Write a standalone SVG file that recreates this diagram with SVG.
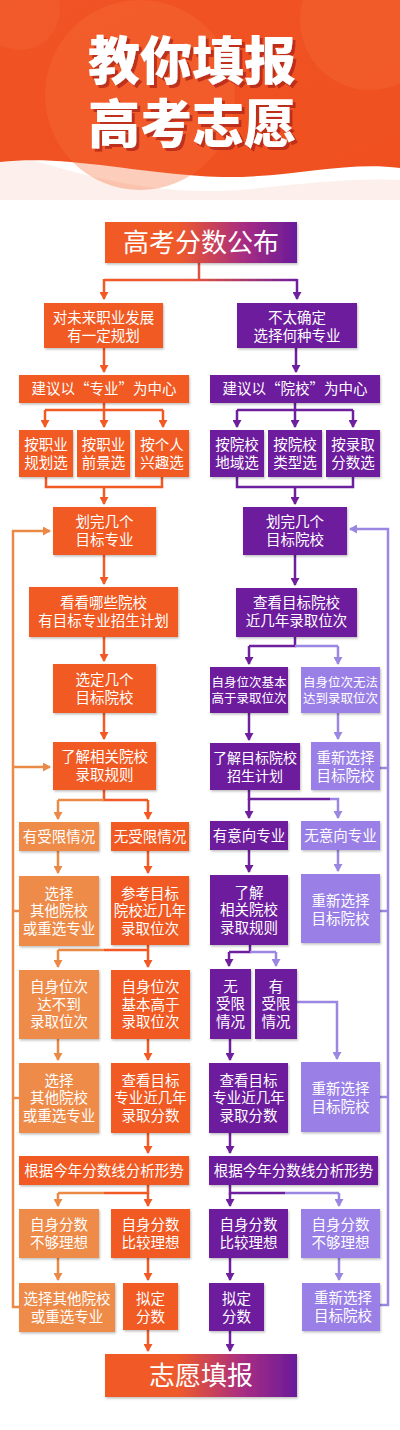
<svg xmlns="http://www.w3.org/2000/svg" width="400" height="1430" viewBox="0 0 400 1430">
<defs>
<style>
.o{fill:#f15a24}.lo{fill:#ee8b48}.p{fill:#6d1f9d}.lp{fill:#9a80e6}
.t{font-family:"Noto Sans CJK SC","Noto Sans",sans-serif;font-size:14.5px;fill:#fff;text-anchor:middle}
.s{font-size:12.5px}.m{font-size:14px}
.big{font-size:26px}
.title{font-family:"Noto Sans CJK SC",sans-serif;font-size:52px;font-weight:900;text-anchor:middle;fill:#fff;filter:url(#tsh)}
.co{fill:none;stroke:#f15a24;stroke-width:2.5}
.clo{fill:none;stroke:#eb8a46;stroke-width:2.5}
.cp{fill:none;stroke:#6d1f9d;stroke-width:2.5}
.clp{fill:none;stroke:#9b86e2;stroke-width:2.5}
.ao{marker-end:url(#mo)}.alo{marker-end:url(#mlo)}.ap{marker-end:url(#mp)}.alp{marker-end:url(#mlp)}
g.n rect{filter:url(#sh)}
</style>
<filter id="sh" x="-10%" y="-10%" width="130%" height="130%"><feDropShadow dx="1" dy="1.5" stdDeviation="1" flood-color="#000" flood-opacity="0.25"/></filter>
<filter id="tsh" x="-10%" y="-10%" width="130%" height="130%"><feDropShadow dx="3" dy="3" stdDeviation="0.3" flood-color="#b02812" flood-opacity="0.8"/></filter>
<linearGradient id="gb" x1="0" y1="0" x2="1" y2="0"><stop offset="0" stop-color="#f15a24"/><stop offset="0.38" stop-color="#ef5a2a"/><stop offset="0.72" stop-color="#a82d82"/><stop offset="1" stop-color="#6a1b9a"/></linearGradient>
<linearGradient id="gl" gradientUnits="userSpaceOnUse" x1="104" y1="0" x2="297" y2="0"><stop offset="0" stop-color="#f15a24"/><stop offset="0.45" stop-color="#e8553a"/><stop offset="1" stop-color="#6d1f9d"/></linearGradient>
<linearGradient id="gh" x1="0" y1="0" x2="1" y2="1"><stop offset="0" stop-color="#f05325"/><stop offset="1" stop-color="#f0501f"/></linearGradient>
<marker id="mo" markerUnits="userSpaceOnUse" markerWidth="9" markerHeight="9" refX="7" refY="4.5" orient="auto"><path d="M0,0 L8,4.5 L0,9 z" fill="#f15a24"/></marker>
<marker id="mlo" markerUnits="userSpaceOnUse" markerWidth="9" markerHeight="9" refX="7" refY="4.5" orient="auto"><path d="M0,0 L8,4.5 L0,9 z" fill="#eb8a46"/></marker>
<marker id="mp" markerUnits="userSpaceOnUse" markerWidth="9" markerHeight="9" refX="7" refY="4.5" orient="auto"><path d="M0,0 L8,4.5 L0,9 z" fill="#6d1f9d"/></marker>
<marker id="mlp" markerUnits="userSpaceOnUse" markerWidth="9" markerHeight="9" refX="7" refY="4.5" orient="auto"><path d="M0,0 L8,4.5 L0,9 z" fill="#9b86e2"/></marker>
</defs>
<rect width="400" height="1430" fill="#fff"/>
<g id="header">
<path d="M0,150 C80,175 160,200 260,188 C320,181 370,178 400,180 V200 H0 Z" fill="#fdf0ec"/>
<path d="M0,0 H400 V168 C340,160 280,182 200,176 C120,170 60,155 0,162 Z" fill="url(#gh)"/>
<circle cx="140" cy="95" r="95" fill="#f5713a" opacity="0.35"/>
<circle cx="370" cy="20" r="70" fill="#f5713a" opacity="0.3"/>
<circle cx="20" cy="10" r="40" fill="#f5713a" opacity="0.25"/>
<text class="title" x="192" y="80">教你填报<tspan x="192" dy="63">高考志愿</tspan></text>
</g>
<g id="connectors">
<path d="M199,263 V280 M104,280 H297" stroke="url(#gl)" stroke-width="2.5" fill="none"/>
<path class="co ao" d="M104,279 V299"/>
<path class="cp ap" d="M297,279 V299"/>
<path class="co ao" d="M104,348 V372"/>
<path class="co" d="M104,403 V410 M45,410 H163"/>
<path class="co ao" d="M45,410 V427"/><path class="co ao" d="M104,410 V427"/><path class="co ao" d="M163,410 V427"/>
<path class="co" d="M46,477 V487 H162 V477"/>
<path class="co ao" d="M104,487 V504"/>
<path class="co ao" d="M104,555 V584"/>
<path class="co ao" d="M104,637 V661"/>
<path class="co ao" d="M104,713 V739"/>
<path class="co" d="M104,790 V800 H148"/><path class="clo" d="M104,800 H58"/>
<path class="clo alo" d="M58,800 V819"/><path class="co ao" d="M148,800 V819"/>
<path class="clo alo" d="M58,851 V873"/><path class="co ao" d="M148,851 V873"/>
<path class="co" d="M148,945 V950 H104"/><path class="clo" d="M104,950 H58"/>
<path class="clo alo" d="M58,950 V967"/><path class="co ao" d="M148,950 V967"/>
<path class="clo alo" d="M58,1039 V1060"/><path class="co ao" d="M148,1039 V1060"/>
<path class="co ao" d="M148,1133 V1153"/>
<path class="co" d="M148,1185 V1193 H104"/><path class="clo" d="M104,1193 H58"/>
<path class="clo alo" d="M58,1193 V1206"/><path class="co ao" d="M148,1193 V1206"/>
<path class="clo alo" d="M58,1258 V1280"/><path class="co ao" d="M148,1258 V1280"/>
<path class="co ao" d="M148,1330 V1351"/>
<path class="clo alo" d="M19,1307 H13 V531 H50"/>
<path class="clo alo" d="M13,767 H50"/>
<path class="clo" d="M13,911 H19 M13,1098 H19"/>
<path class="cp ap" d="M296,348 V372"/>
<path class="cp" d="M295,403 V410 M237,410 H353"/>
<path class="cp ap" d="M237,410 V427"/><path class="cp ap" d="M295,410 V427"/><path class="cp ap" d="M353,410 V427"/>
<path class="cp" d="M237,477 V487 H353 V477"/>
<path class="cp ap" d="M295,487 V504"/>
<path class="cp ap" d="M295,555 V585"/>
<path class="cp" d="M295,637 V646 H249"/><path class="clp" d="M295,646 H338"/>
<path class="cp ap" d="M249,646 V664"/><path class="clp alp" d="M338,646 V664"/>
<path class="cp ap" d="M249,713 V740"/><path class="clp alp" d="M338,713 V739"/>
<path class="cp" d="M249,790 V799 H330"/>
<path class="cp ap" d="M249,799 V818"/><path class="clp alp" d="M330,799 H338 V818"/>
<path class="cp ap" d="M249,850 V872"/><path class="clp alp" d="M338,850 V871"/>
<path class="cp" d="M250,945 V952 H229"/><path class="clp" d="M250,952 H276"/>
<path class="cp ap" d="M229,952 V966"/><path class="clp alp" d="M276,952 V966"/>
<path class="cp ap" d="M230,1039 V1060"/>
<path class="clp alp" d="M297,1002 H337 V1059"/>
<path class="cp ap" d="M230,1133 V1153"/>
<path class="cp" d="M230,1185 V1193 H285"/><path class="clp" d="M285,1193 H339"/>
<path class="cp ap" d="M230,1193 V1206"/><path class="clp alp" d="M339,1193 V1206"/>
<path class="cp ap" d="M230,1258 V1280"/><path class="clp alp" d="M339,1258 V1280"/>
<path class="cp ap" d="M230,1331 V1351"/>
<path class="clp alp" d="M380,1305 H388 V529 H350"/>
<path class="clp" d="M380,768 H388 M380,911 H388 M380,1097 H388"/>
</g>
<g id="n_top" class="n"><rect x="105" y="222" width="192" height="41" fill="url(#gb)"/><text class="t big" x="201" y="251.5">高考分数公布</text></g>
<g id="o1" class="n"><rect class="o" x="44" y="303" width="119" height="45"/><text class="t" x="103.5" y="323">对未来职业发展<tspan x="103.5" dy="18">有一定规划</tspan></text></g>
<g id="o2" class="n"><rect class="o" x="19" y="375" width="170" height="28"/><text class="t" x="104" y="394">建议以“专业”为中心</text></g>
<g id="o3a" class="n"><rect class="o" x="19" y="430" width="54" height="47"/><text class="t" x="46" y="449.5">按职业<tspan x="46" dy="18">规划选</tspan></text></g>
<g id="o3b" class="n"><rect class="o" x="77" y="430" width="53" height="47"/><text class="t" x="103.5" y="449.5">按职业<tspan x="103.5" dy="18">前景选</tspan></text></g>
<g id="o3c" class="n"><rect class="o" x="135" y="430" width="54" height="47"/><text class="t" x="162" y="449.5">按个人<tspan x="162" dy="18">兴趣选</tspan></text></g>
<g id="o4" class="n"><rect class="o" x="53" y="507" width="103" height="48"/><text class="t" x="104.5" y="527">划完几个<tspan x="104.5" dy="18">目标专业</tspan></text></g>
<g id="o5" class="n"><rect class="o" x="29" y="587" width="149" height="50"/><text class="t" x="103.5" y="608">看看哪些院校<tspan x="103.5" dy="18">有目标专业招生计划</tspan></text></g>
<g id="o6" class="n"><rect class="o" x="53" y="664" width="103" height="49"/><text class="t" x="104.5" y="684.5">选定几个<tspan x="104.5" dy="18">目标院校</tspan></text></g>
<g id="o7" class="n"><rect class="o" x="53" y="742" width="103" height="48"/><text class="t" x="104.5" y="762">了解相关院校<tspan x="104.5" dy="18">录取规则</tspan></text></g>
<g id="o8a" class="n"><rect class="lo" x="19" y="822" width="80" height="29"/><text class="t" x="59" y="841.5">有受限情况</text></g>
<g id="o8b" class="n"><rect class="o" x="111" y="822" width="78" height="29"/><text class="t" x="150" y="841.5">无受限情况</text></g>
<g id="o9a" class="n"><rect class="lo" x="19" y="876" width="80" height="70"/><text class="t" x="59" y="898.5">选择<tspan x="59" dy="17.5">其他院校</tspan><tspan x="59" dy="17.5">或重选专业</tspan></text></g>
<g id="o9b" class="n"><rect class="o" x="111" y="876" width="78" height="69"/><text class="t" x="150" y="898.5">参考目标<tspan x="150" dy="17.5">院校近几年</tspan><tspan x="150" dy="17.5">录取位次</tspan></text></g>
<g id="o10a" class="n"><rect class="lo" x="19" y="970" width="80" height="69"/><text class="t" x="59" y="992">自身位次<tspan x="59" dy="17.5">达不到</tspan><tspan x="59" dy="17.5">录取位次</tspan></text></g>
<g id="o10b" class="n"><rect class="o" x="111" y="970" width="79" height="69"/><text class="t" x="150.5" y="992">自身位次<tspan x="150.5" dy="17.5">基本高于</tspan><tspan x="150.5" dy="17.5">录取位次</tspan></text></g>
<g id="o11a" class="n"><rect class="lo" x="19" y="1063" width="80" height="70"/><text class="t" x="59" y="1085.5">选择<tspan x="59" dy="17.5">其他院校</tspan><tspan x="59" dy="17.5">或重选专业</tspan></text></g>
<g id="o11b" class="n"><rect class="o" x="111" y="1063" width="79" height="70"/><text class="t" x="150.5" y="1085.5">查看目标<tspan x="150.5" dy="17.5">专业近几年</tspan><tspan x="150.5" dy="17.5">录取分数</tspan></text></g>
<g id="o12" class="n"><rect class="o" x="19" y="1156" width="170" height="29"/><text class="t" x="104" y="1175.5">根据今年分数线分析形势</text></g>
<g id="o13a" class="n"><rect class="lo" x="19" y="1209" width="80" height="49"/><text class="t" x="59" y="1229.5">自身分数<tspan x="59" dy="18">不够理想</tspan></text></g>
<g id="o13b" class="n"><rect class="o" x="111" y="1209" width="79" height="49"/><text class="t" x="150.5" y="1229.5">自身分数<tspan x="150.5" dy="18">比较理想</tspan></text></g>
<g id="o14a" class="n"><rect class="lo" x="19" y="1283" width="96" height="49"/><text class="t" x="67" y="1303.5">选择其他院校<tspan x="67" dy="18">或重选专业</tspan></text></g>
<g id="o14b" class="n"><rect class="o" x="123" y="1283" width="55" height="47"/><text class="t" x="150.5" y="1303.5">拟定<tspan x="150.5" dy="18">分数</tspan></text></g>
<g id="p1" class="n"><rect class="p" x="237" y="303" width="120" height="45"/><text class="t" x="297" y="323">不太确定<tspan x="297" dy="18">选择何种专业</tspan></text></g>
<g id="p2" class="n"><rect class="p" x="210" y="375" width="170" height="28"/><text class="t" x="295" y="394">建议以“院校”为中心</text></g>
<g id="p3a" class="n"><rect class="p" x="210" y="430" width="54" height="47"/><text class="t" x="237" y="449.5">按院校<tspan x="237" dy="18">地域选</tspan></text></g>
<g id="p3b" class="n"><rect class="p" x="268" y="430" width="54" height="47"/><text class="t" x="295" y="449.5">按院校<tspan x="295" dy="18">类型选</tspan></text></g>
<g id="p3c" class="n"><rect class="p" x="326" y="430" width="54" height="47"/><text class="t" x="353" y="449.5">按录取<tspan x="353" dy="18">分数选</tspan></text></g>
<g id="p4" class="n"><rect class="p" x="243" y="507" width="104" height="48"/><text class="t" x="295" y="527">划完几个<tspan x="295" dy="18">目标院校</tspan></text></g>
<g id="p5" class="n"><rect class="p" x="236" y="588" width="121" height="49"/><text class="t" x="296.5" y="608">查看目标院校<tspan x="296.5" dy="18">近几年录取位次</tspan></text></g>
<g id="p6a" class="n"><rect class="p" x="210" y="667" width="78" height="46"/><text class="t s" x="249" y="686.5">自身位次基本<tspan x="249" dy="16">高于录取位次</tspan></text></g>
<g id="p6b" class="n"><rect class="lp" x="301" y="667" width="79" height="46"/><text class="t s" x="340.5" y="686.5">自身位次无法<tspan x="340.5" dy="16">达到录取位次</tspan></text></g>
<g id="p7a" class="n"><rect class="p" x="210" y="743" width="90" height="47"/><text class="t m" x="255" y="762.5">了解目标院校<tspan x="255" dy="18">招生计划</tspan></text></g>
<g id="p7b" class="n"><rect class="lp" x="311" y="742" width="69" height="48"/><text class="t" x="345.5" y="762.5">重新选择<tspan x="345.5" dy="18">目标院校</tspan></text></g>
<g id="p8a" class="n"><rect class="p" x="210" y="821" width="78" height="29"/><text class="t" x="249" y="840.5">有意向专业</text></g>
<g id="p8b" class="n"><rect class="lp" x="301" y="821" width="79" height="29"/><text class="t" x="340.5" y="840.5">无意向专业</text></g>
<g id="p9a" class="n"><rect class="p" x="210" y="875" width="78" height="70"/><text class="t" x="249" y="897.5">了解<tspan x="249" dy="17.5">相关院校</tspan><tspan x="249" dy="17.5">录取规则</tspan></text></g>
<g id="p9b" class="n"><rect class="lp" x="301" y="874" width="79" height="69"/><text class="t" x="340.5" y="906">重新选择<tspan x="340.5" dy="17.5">目标院校</tspan></text></g>
<g id="p10a" class="n"><rect class="p" x="210" y="969" width="41" height="70"/><text class="t" x="230.5" y="991.5">无<tspan x="230.5" dy="17.5">受限</tspan><tspan x="230.5" dy="17.5">情况</tspan></text></g>
<g id="p10b" class="n"><rect class="p" x="255" y="969" width="42" height="70"/><text class="t" x="276" y="991.5">有<tspan x="276" dy="17.5">受限</tspan><tspan x="276" dy="17.5">情况</tspan></text></g>
<g id="p11a" class="n"><rect class="p" x="209" y="1063" width="79" height="70"/><text class="t" x="248.5" y="1085.5">查看目标<tspan x="248.5" dy="17.5">专业近几年</tspan><tspan x="248.5" dy="17.5">录取分数</tspan></text></g>
<g id="p11b" class="n"><rect class="lp" x="301" y="1062" width="79" height="70"/><text class="t" x="340.5" y="1094">重新选择<tspan x="340.5" dy="18">目标院校</tspan></text></g>
<g id="p12" class="n"><rect class="p" x="209" y="1156" width="169" height="29"/><text class="t" x="293.5" y="1175.5">根据今年分数线分析形势</text></g>
<g id="p13a" class="n"><rect class="p" x="209" y="1209" width="79" height="49"/><text class="t" x="248.5" y="1229.5">自身分数<tspan x="248.5" dy="18">比较理想</tspan></text></g>
<g id="p13b" class="n"><rect class="lp" x="301" y="1209" width="79" height="49"/><text class="t" x="340.5" y="1229.5">自身分数<tspan x="340.5" dy="18">不够理想</tspan></text></g>
<g id="p14a" class="n"><rect class="p" x="209" y="1283" width="55" height="48"/><text class="t" x="236.5" y="1303.5">拟定<tspan x="236.5" dy="18">分数</tspan></text></g>
<g id="p14b" class="n"><rect class="lp" x="302" y="1283" width="78" height="48"/><text class="t" x="343" y="1303">重新选择<tspan x="343" dy="18">目标院校</tspan></text></g>
<g id="n_end" class="n"><rect x="105" y="1354" width="192" height="43" fill="url(#gb)"/><text class="t big" x="201" y="1385">志愿填报</text></g>
</svg>
